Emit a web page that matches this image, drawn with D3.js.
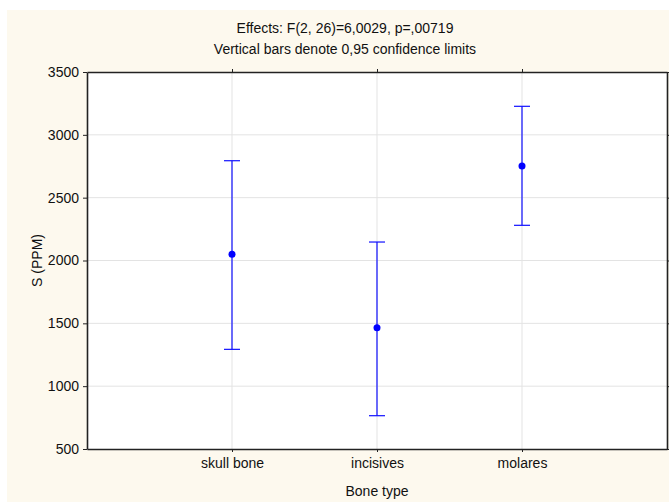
<!DOCTYPE html>
<html lang="en">
<head>
  <meta charset="UTF-8" />
  <title>S (PPM) by bone type</title>
  <script src="https://d3js.org/d3.v7.min.js"></script>
  <style>
    body { margin: 0; padding: 0; background: white; }
    svg { display: block; font-family: "Liberation Sans", Arial, sans-serif; }
  </style>
</head>
<body>
  <svg id="chart" width="669" height="503"></svg>
  <script>
    // Means and 0.95 confidence limits
    const categories = ["skull bone", "incisives", "molares"];
    const means = [2050, 1465, 2752];
    const lower = [1293, 765, 2280];
    const upper = [2794, 2147, 3227];
    const yTicks = [500, 1000, 1500, 2000, 2500, 3000, 3500];

    const svg = d3.select("#chart");
    const margin = { top: 72, right: 2, bottom: 54, left: 87 };
    const width = 669 - margin.left - margin.right;
    const height = 503 - margin.top - margin.bottom;

    // cream background panel
    svg.append("rect")
      .attr("x", 7).attr("y", 10)
      .attr("width", 669 - 7).attr("height", 502 - 10)
      .attr("fill", "#fdf9ee");

    const g = svg.append("g").attr("transform", `translate(${margin.left},${margin.top})`);

    g.append("rect")
      .attr("width", width).attr("height", height)
      .attr("fill", "white");

    const x = d3.scalePoint()
      .domain(categories)
      .range([0, width])
      .padding(1);

    const y = d3.scaleLinear()
      .domain([500, 3500])
      .range([height, 0]);

    // gridlines
    g.append("g")
      .selectAll("line")
      .data(yTicks.slice(1, -1))
      .join("line")
      .attr("x1", 0).attr("x2", width)
      .attr("y1", d => y(d)).attr("y2", d => y(d))
      .attr("stroke", "#e3e3e3");

    g.append("g")
      .selectAll("line")
      .data(categories)
      .join("line")
      .attr("x1", d => x(d)).attr("x2", d => x(d))
      .attr("y1", 0).attr("y2", height)
      .attr("stroke", "#e3e3e3");

    // axes
    g.append("g")
      .call(d3.axisLeft(y).tickValues(yTicks).tickFormat(d3.format("d"))
        .tickSize(4).tickSizeOuter(0).tickPadding(4));
    g.append("g")
      .attr("transform", `translate(0,${height})`)
      .call(d3.axisBottom(x).tickSize(3).tickSizeOuter(0).tickPadding(6));
    g.append("g")
      .attr("transform", `translate(${width},0)`)
      .call(d3.axisRight(y).tickValues(yTicks).tickSize(3).tickSizeOuter(0).tickFormat(""));
    g.append("g")
      .call(d3.axisTop(x).tickSize(3).tickSizeOuter(0).tickFormat(""));

    g.selectAll(".domain").attr("stroke", "#222").attr("stroke-width", 1.6);
    g.selectAll(".tick line").attr("stroke", "#222");
    g.selectAll(".tick text").attr("fill", "#111").style("font-size", "14px");

    // error bars
    const bars = g.append("g");
    categories.forEach((c, i) => {
      bars.append("line")
        .attr("x1", x(c)).attr("x2", x(c))
        .attr("y1", y(lower[i])).attr("y2", y(upper[i]))
        .attr("stroke", "#1010ff").attr("stroke-width", 1.2);
      [lower[i], upper[i]].forEach(v => {
        bars.append("line")
          .attr("x1", x(c) - 8).attr("x2", x(c) + 8)
          .attr("y1", y(v)).attr("y2", y(v))
          .attr("stroke", "#1010ff").attr("stroke-width", 1.2);
      });
      bars.append("circle")
        .attr("cx", x(c)).attr("cy", y(means[i]))
        .attr("r", 3.5)
        .attr("fill", "#0000ff");
    });

    // titles
    svg.append("text")
      .attr("x", 345).attr("y", 33)
      .attr("text-anchor", "middle")
      .style("font-size", "14px").attr("fill", "#111")
      .text("Effects: F(2, 26)=6,0029, p=,00719");
    svg.append("text")
      .attr("x", 345).attr("y", 54)
      .attr("text-anchor", "middle")
      .style("font-size", "14px").attr("fill", "#111")
      .text("Vertical bars denote 0,95 confidence limits");

    svg.append("text")
      .attr("x", margin.left + width / 2).attr("y", 496)
      .attr("text-anchor", "middle")
      .style("font-size", "14px").attr("fill", "#111")
      .text("Bone type");

    svg.append("text")
      .attr("transform", `translate(42,${margin.top + height / 2}) rotate(-90)`)
      .attr("text-anchor", "middle")
      .style("font-size", "14px").attr("fill", "#111")
      .text("S (PPM)");
  </script>
</body>
</html>
